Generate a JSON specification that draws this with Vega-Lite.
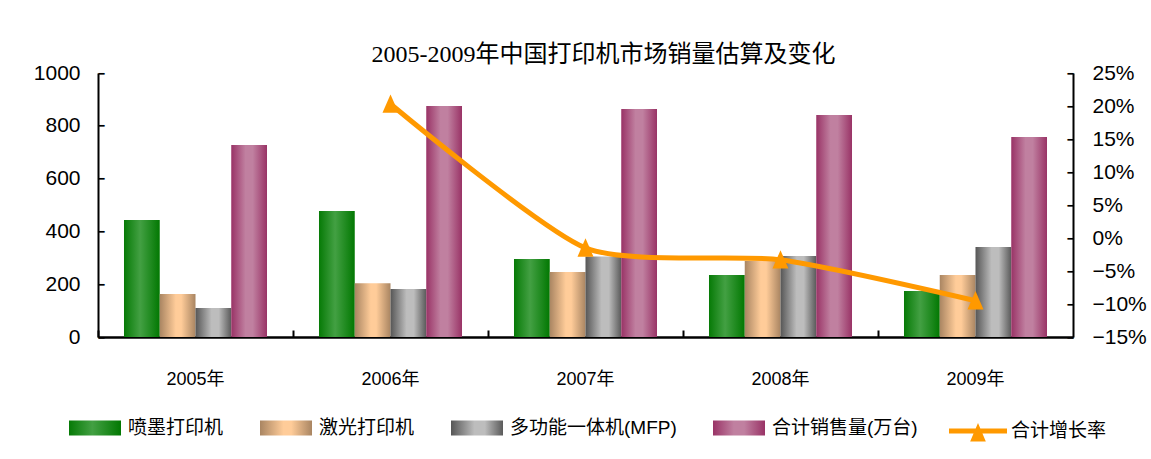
{
  "$schema": "https://vega.github.io/schema/vega-lite/v6.json",
  "width": 975,
  "height": 264,
  "autosize": "none",
  "padding": {"left": 98, "top": 73, "right": 78, "bottom": 122},
  "background": "white",
  "params": [
    {
      "name": "grads",
      "expr": "{'喷墨打印机': {gradient: 'linear', x1: 0, x2: 1, y1: 0, y2: 0, stops: [{offset: 0, color: '#067a06'}, {offset: 0.45, color: '#43a043'}, {offset: 1, color: '#027802'}]}, '激光打印机': {gradient: 'linear', x1: 0, x2: 1, y1: 0, y2: 0, stops: [{offset: 0, color: '#a98562'}, {offset: 0.45, color: '#ffcc99'}, {offset: 0.6, color: '#ffcc99'}, {offset: 1, color: '#a98562'}]}, '多功能一体机(MFP)': {gradient: 'linear', x1: 0, x2: 1, y1: 0, y2: 0, stops: [{offset: 0, color: '#565656'}, {offset: 0.45, color: '#bdbdbd'}, {offset: 0.65, color: '#bdbdbd'}, {offset: 1, color: '#5a5a5a'}]}, '合计销售量(万台)': {gradient: 'linear', x1: 0, x2: 1, y1: 0, y2: 0, stops: [{offset: 0, color: '#993366'}, {offset: 0.4, color: '#c080a0'}, {offset: 0.6, color: '#c080a0'}, {offset: 1, color: '#993366'}]}}"
    }
  ],
  "title": {
    "text": "2005-2009年中国打印机市场销量估算及变化",
    "font": "Liberation Serif, Noto Sans CJK SC",
    "fontSize": 24,
    "fontWeight": "normal",
    "color": "black",
    "anchor": "middle",
    "dx": 18,
    "offset": -5
  },
  "datasets": {
    "bars": [
      {"year": "2005年", "series": "喷墨打印机", "value": 443},
      {"year": "2005年", "series": "激光打印机", "value": 163},
      {"year": "2005年", "series": "多功能一体机(MFP)", "value": 110},
      {"year": "2005年", "series": "合计销售量(万台)", "value": 727},
      {"year": "2006年", "series": "喷墨打印机", "value": 477},
      {"year": "2006年", "series": "激光打印机", "value": 204},
      {"year": "2006年", "series": "多功能一体机(MFP)", "value": 182},
      {"year": "2006年", "series": "合计销售量(万台)", "value": 875},
      {"year": "2007年", "series": "喷墨打印机", "value": 295},
      {"year": "2007年", "series": "激光打印机", "value": 246},
      {"year": "2007年", "series": "多功能一体机(MFP)", "value": 305},
      {"year": "2007年", "series": "合计销售量(万台)", "value": 864},
      {"year": "2008年", "series": "喷墨打印机", "value": 235},
      {"year": "2008年", "series": "激光打印机", "value": 288},
      {"year": "2008年", "series": "多功能一体机(MFP)", "value": 307},
      {"year": "2008年", "series": "合计销售量(万台)", "value": 841},
      {"year": "2009年", "series": "喷墨打印机", "value": 174},
      {"year": "2009年", "series": "激光打印机", "value": 235},
      {"year": "2009年", "series": "多功能一体机(MFP)", "value": 341},
      {"year": "2009年", "series": "合计销售量(万台)", "value": 758}
    ],
    "growth": [
      {"year": "2006年", "name": "合计增长率", "rate": 0.203},
      {"year": "2007年", "name": "合计增长率", "rate": -0.015},
      {"year": "2008年", "name": "合计增长率", "rate": -0.033},
      {"year": "2009年", "name": "合计增长率", "rate": -0.095}
    ]
  },
  "layer": [
    {
      "data": {"name": "bars"},
      "layer": [
        {
          "mark": {"type": "bar", "strokeWidth": 0},
          "encoding": {
            "x": {
              "field": "year",
              "type": "nominal",
              "scale": {"paddingInner": 0, "paddingOuter": 0},
              "axis": {
                "title": null,
                "orient": "bottom",
                "labelAngle": 0,
                "ticks": false,
                "grid": false,
                "domainColor": "black",
                "domainWidth": 2.5,
                "labelPadding": 33,
                "labelFont": "Liberation Sans, Noto Sans CJK SC",
                "labelFontSize": 18,
                "labelColor": "black"
              }
            },
            "xOffset": {
              "field": "series",
              "type": "nominal",
              "sort": ["喷墨打印机", "激光打印机", "多功能一体机(MFP)", "合计销售量(万台)"],
              "scale": {"paddingInner": 0, "paddingOuter": 0.727}
            },
            "y": {
              "field": "value",
              "type": "quantitative",
              "scale": {"domain": [0, 1000], "nice": false},
              "axis": {
                "title": null,
                "orient": "left",
                "values": [0, 200, 400, 600, 800, 1000],
                "format": "d",
                "ticks": false,
                "domain": true,
                "domainColor": "black",
                "domainWidth": 2,
                "grid": false,
                "labelPadding": 18,
                "labelFont": "Liberation Sans Narrow, Liberation Sans",
                "labelFontSize": 21,
                "labelColor": "black"
              }
            },
            "color": {
              "field": "series",
              "type": "nominal",
              "sort": ["喷墨打印机", "激光打印机", "多功能一体机(MFP)", "合计销售量(万台)"],
              "scale": {
                "domain": ["喷墨打印机", "激光打印机", "多功能一体机(MFP)", "合计销售量(万台)"],
                "range": [
                  {"expr": "grads['喷墨打印机']"},
                  {"expr": "grads['激光打印机']"},
                  {"expr": "grads['多功能一体机(MFP)']"},
                  {"expr": "grads['合计销售量(万台)']"}
                ]
              },
              "legend": {
                "title": null,
                "orient": "none",
                "direction": "horizontal",
                "legendX": -29,
                "legendY": 329,
                "symbolType": "M-1,-0.29H1V0.29H-1Z",
                "symbolSize": 2704,
                "symbolStrokeWidth": 0,
                "symbolOpacity": 1,
                "labelOffset": 7,
                "columnPadding": 36,
                "labelFont": "Liberation Sans, Noto Sans CJK SC",
                "labelFontSize": 19,
                "labelColor": "black",
                "labelLimit": 300
              }
            }
          }
        },
        {
          "mark": {"type": "point", "opacity": 0},
          "encoding": {
            "x": {
              "field": "year",
              "type": "nominal",
              "axis": {
                "title": null,
                "orient": "top",
                "offset": -264,
                "bandPosition": 0,
                "labels": false,
                "domain": false,
                "grid": false,
                "ticks": true,
                "tickSize": 7,
                "tickWidth": 2,
                "tickColor": "black"
              }
            },
            "y": {
              "field": "value",
              "type": "quantitative",
              "axis": {
                "title": null,
                "orient": "right",
                "offset": -975,
                "values": [0, 200, 400, 600, 800, 1000],
                "labels": true,
                "labelExpr": "'━'",
                "labelFont": "DejaVu Sans Mono",
                "labelFontSize": 10,
                "labelFontWeight": "bold",
                "labelColor": "black",
                "labelPadding": 0,
                "labelBaseline": "middle",
                "labelFlush": false,
                "labelOverlap": false,
                "domain": false,
                "grid": false,
                "ticks": false
              }
            }
          }
        }
      ]
    },
    {
      "data": {"name": "growth"},
      "encoding": {
        "x": {"field": "year", "type": "nominal", "axis": null},
        "color": {
          "field": "name",
          "type": "nominal",
          "scale": {"range": ["#FF9900"]},
          "legend": {
            "title": null,
            "orient": "none",
            "legendX": 851,
            "legendY": 329,
            "symbolType": "M-1,-0.09H1V0.09H-1Z M-0.27,0.36L0,-0.28L0.27,0.36Z",
            "symbolSize": 3364,
            "labelOffset": 4,
            "labelFont": "Liberation Sans, Noto Sans CJK SC",
            "labelFontSize": 19,
            "labelColor": "black",
            "encode": {
              "symbols": {"update": {"fill": {"value": "#FF9900"}, "stroke": {"value": "transparent"}, "strokeWidth": {"value": 0}, "opacity": {"value": 1}, "fillOpacity": {"value": 1}}}
            }
          }
        }
      },
      "layer": [
        {
          "mark": {"type": "line", "interpolate": "cardinal", "tension": 0.35, "strokeWidth": 5},
          "encoding": {
            "y": {
              "field": "rate",
              "type": "quantitative",
              "scale": {"domain": [-0.15, 0.25], "nice": false},
              "axis": {
                "title": null,
                "orient": "right",
                "format": ".0%",
                "values": [-0.15, -0.1, -0.05, 0, 0.05, 0.1, 0.15, 0.2, 0.25],
                "ticks": false,
                "domain": true,
                "domainColor": "black",
                "domainWidth": 2,
                "grid": false,
                "labelPadding": 19,
                "labelFont": "Liberation Sans Narrow, Liberation Sans",
                "labelFontSize": 21,
                "labelColor": "black"
              }
            }
          }
        },
        {
          "mark": {"type": "point", "shape": "M0,-1.2L-1,1.1L1,1.1Z", "size": 256, "filled": true, "opacity": 1, "strokeWidth": 0},
          "encoding": {
            "y": {
              "field": "rate",
              "type": "quantitative",
              "axis": {
                "title": null,
                "orient": "left",
                "offset": -975,
                "values": [-0.15, -0.1, -0.05, 0, 0.05, 0.1, 0.15, 0.2, 0.25],
                "labels": true,
                "labelExpr": "'━'",
                "labelFont": "DejaVu Sans Mono",
                "labelFontSize": 10,
                "labelFontWeight": "bold",
                "labelColor": "black",
                "labelPadding": 0,
                "labelBaseline": "middle",
                "labelFlush": false,
                "labelOverlap": false,
                "domain": false,
                "grid": false,
                "ticks": false
              }
            }
          }
        }
      ]
    }
  ],
  "resolve": {"scale": {"y": "independent", "color": "independent"}},
  "config": {
    "view": {"stroke": null}
  }
}
